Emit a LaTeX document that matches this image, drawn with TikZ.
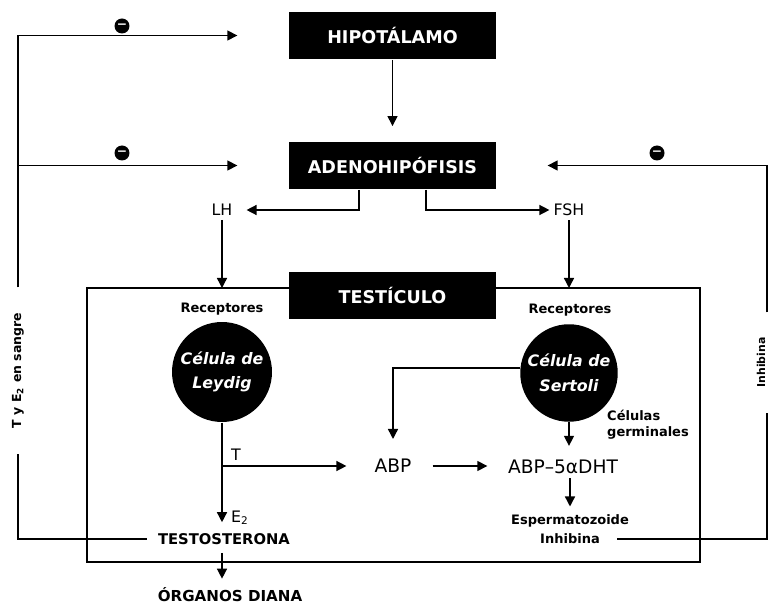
\documentclass[tikz,border=0pt]{standalone}
\usepackage{fontspec}
\setmainfont{DejaVu Sans}
\usetikzlibrary{arrows.meta, calc}
\tikzset{
  every picture/.style={line width=0.8pt},
  blackbox/.style={fill=black, text=white, minimum width=4.14cm, minimum height=0.95cm, font=\bfseries\fontsize{10}{12}\selectfont},
  cell/.style={circle, fill=black, text=white, minimum size=2cm, inner sep=0pt, align=center, font=\bfseries\itshape\fontsize{9}{14}\selectfont},
  lbl/.style={font=\bfseries\fontsize{7.4}{9}\selectfont, inner sep=2pt},
  hormone/.style={font=\fontsize{9}{11}\selectfont, inner sep=2pt},
  big/.style={font=\fontsize{10.6}{12}\selectfont, inner sep=2pt},
  side/.style={rotate=90, inner sep=0pt, font=\bfseries\fontsize{7.1}{9}\selectfont},
  arr/.style={-{Triangle[length=2mm, width=2mm]}},
  minus/.style={circle, fill=black, text=white, minimum size=0.3cm, inner sep=0pt, font=\bfseries\fontsize{7}{7}\selectfont},
}
\begin{document}
\begin{tikzpicture}[x=0.02cm, y=-0.02cm]
  \useasboundingbox (0,0) rectangle (771,604);
  % testicle outline
  \coordinate (tl) at (87,288);
  \coordinate (br) at (700,562);
  \draw (tl) rectangle (br);
  % black boxes
  \node[blackbox] (hipo) at (392.5,35.5) {HIPOTÁLAMO};
  \node[blackbox] (adeno) at (392.5,165.5) {ADENOHIPÓFISIS};
  \node[blackbox] (testi) at (392.5,295.5) {TESTÍCULO};
  \draw[arr, shorten >=0.3cm] (hipo) -- (adeno);
  % hormones
  \node[hormone] (lh) at (222,210) {LH};
  \node[hormone] (fsh) at (569,210) {FSH};
  \draw[arr, shorten >=0.2cm] ([xshift=-0.67cm]adeno.south) |- (lh.east);
  \draw[arr] ([xshift=0.67cm]adeno.south) |- (fsh.west);
  \draw[arr] (lh) -- (lh |- tl);
  \draw[arr] (fsh) -- (fsh |- tl);
  % cells
  \node[lbl] (rec1) at (222,309) {Receptores};
  \node[lbl] (rec2) at (570,310) {Receptores};
  \node[cell] (leydig) at (222,372) {Célula de\\Leydig};
  \node[cell, minimum size=1.95cm] (sertoli) at (569,373) {Célula de\\Sertoli};
  \node[lbl, align=left] (germ) at (648,425) {Células\\germinales};
  % products
  \node[big] (abp) at (393,466) {ABP};
  \node[big] (dht) at (563,467) {ABP–5αDHT};
  \node[lbl] (esp) at (570,521) {Espermatozoide};
  \node[lbl] (inhb) at (570,539) {Inhibina};
  \node[lbl, font=\bfseries\fontsize{8.4}{10}\selectfont] (testo) at (224,539) {TESTOSTERONA};
  \node[lbl, font=\bfseries\fontsize{8.6}{10}\selectfont] (organos) at (230,595) {ÓRGANOS DIANA};
  \node[hormone] (tlab) at (236,455) {T};
  \node[hormone] (e2lab) at (240,518) {E\textsubscript{2}};
  \draw[arr, shorten >=0.14cm] (leydig.south) -- (leydig.south |- testo.north);
  \draw[arr, shorten >=0.48cm] (leydig.south |- abp.west) -- (abp.west);
  \draw[arr, shorten <=0.34cm, shorten >=0.33cm] (abp.east) -- (abp.east -| dht.west);
  \draw[arr, shorten >=0.32cm] ([yshift=0.1cm]sertoli.west) -| (abp.north);
  \draw[arr, shorten >=0.2cm] (sertoli.south) -- (sertoli.south |- dht.north);
  \draw[arr, shorten >=0.08cm] (esp.north |- dht.south) -- (esp.north);
  \draw[arr, shorten <=0.08cm, shorten >=0.1cm] (testo.south -| leydig.south) -- (leydig.south |- organos.north);
  % feedback, left
  \node[side, minimum width=3.3cm] (tsang) at (18,370.5) {T y E\textsubscript{2} en sangre};
  \draw[shorten <=0.14cm] (testo.west) -| (tsang.west);
  \draw[arr] (tsang.east) |- ([xshift=-1.02cm]hipo.west);
  \draw[arr] (tsang.east |- adeno.west) -- ([xshift=-1.02cm]adeno.west);
  \node[minus] (m1) at (122,26) {−};
  \node[minus] (m2) at (122,153) {−};
  % feedback, right
  \coordinate (rline) at (767,362.5);
  \node[side, minimum width=1.98cm, font=\bfseries\fontsize{6.2}{8}\selectfont] (inhlab) at (761,362.5) {Inhibina};
  \draw[shorten <=0.26cm] (inhb.east) -| (inhlab.west -| rline);
  \draw[arr] (inhlab.east -| rline) |- ([xshift=1.02cm]adeno.east);
  \node[minus] (m3) at (657,153) {−};
\end{tikzpicture}
\end{document}
